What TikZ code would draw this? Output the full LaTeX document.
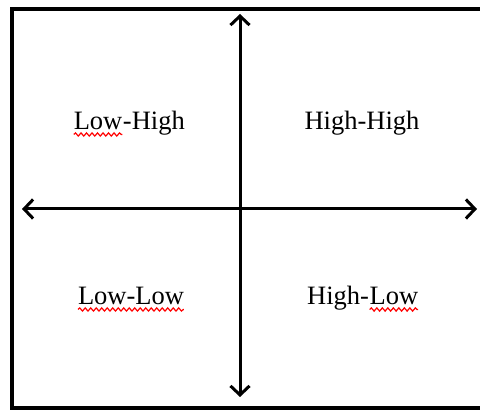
\documentclass[tikz,border=0pt]{standalone}
\usepackage{fontspec}
\setmainfont{Liberation Serif}
\usetikzlibrary{arrows.meta,decorations.pathmorphing}
\newcommand{\squig}[1]{\tikz[baseline=(w.base)]{\node[inner sep=0pt,outer sep=0pt,anchor=base] (w) at (0,0) {#1};
  \draw[red,line width=1.2pt,decorate,decoration={snake,amplitude=1.6pt,segment length=5.5pt}] ([yshift=-4.5pt]w.base west) -- ([yshift=-4.5pt]w.base east);}}
\begin{document}
\begin{tikzpicture}[x=1pt,y=1pt,
    quad/.style={anchor=base,inner sep=0pt,font=\fontsize{26.5}{30}\selectfont},
    axis/.style={line width=3pt,{Straight Barb[length=9pt,width=19pt,line width=3pt]}-{Straight Barb[length=9pt,width=19pt,line width=3pt]}}]
  \useasboundingbox (0,0) rectangle (480,412);
  % frame, open on the right
  \draw[line width=3.4pt] (482,403) -- (12,403) -- (12,4) -- (482,4);
  \coordinate (west) at (22,203);
  \coordinate (east) at (477,203);
  \coordinate (north) at (240,398);
  \coordinate (south) at (240,15);
  \draw[axis] (west) -- (east);
  \draw[axis] (north) -- (south);
  \node[quad] (lh) at (129,282) {\squig{Low}-High};
  \node[quad] (hh) at (362,282) {High-High};
  \node[quad] (ll) at (131,107) {\squig{Low-Low}};
  \node[quad] (hl) at (363,107) {High-\squig{Low}};
\end{tikzpicture}
\end{document}
